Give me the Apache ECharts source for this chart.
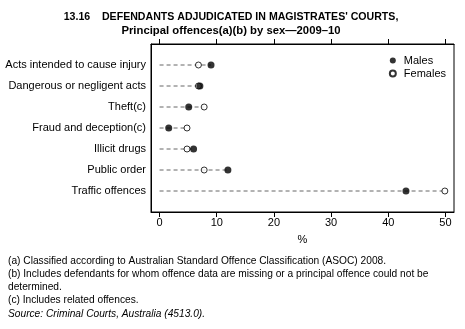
<!DOCTYPE html>
<html>
<head>
<meta charset="utf-8">
<script src="https://cdn.jsdelivr.net/npm/echarts@6/dist/echarts.min.js"></script>
<style>
html,body{margin:0;padding:0;background:#fff;}
#chart{width:465px;height:329px;}
</style>
</head>
<body>
<div id="chart"></div>
<script>
const categories = ['Acts intended to cause injury','Dangerous or negligent acts','Theft(c)','Fraud and deception(c)','Illicit drugs','Public order','Traffic offences'];
const males = [9.0, 7.05, 5.1, 1.6, 5.95, 11.95, 43.1];
const females = [6.8, 6.8, 7.8, 4.8, 4.8, 7.8, 49.9];
const xTicks = [0, 10, 20, 30, 40, 50];
const titleLine1 = "13.16    DEFENDANTS ADJUDICATED IN MAGISTRATES' COURTS,";
const titleLine2 = 'Principal offences(a)(b) by sex\u20142009\u201310';
const footnotes = [
  '(a) Classified according to Australian Standard Offence Classification (ASOC) 2008.',
  '(b) Includes defendants for whom offence data are missing or a principal offence could not be',
  'determined.',
  '(c) Includes related offences.'
];
const sourceText = 'Source: Criminal Courts, Australia (4513.0).';

const font = 'Liberation Sans, Arial, sans-serif';
const yCats = [''].concat(categories).concat(['']);
const idx = categories.map((c, i) => i + 1);

const chart = echarts.init(document.getElementById('chart'), null, {renderer: 'canvas'});
chart.setOption({
  animation: false,
  textStyle: {fontFamily: font},
  title: {
    text: '{a|' + titleLine1 + '}\n{b|' + titleLine2 + '}',
    left: 226, top: 6, textAlign: 'center',
    textStyle: {
      align: 'center',
      rich: {
        a: {fontSize: 10.6, fontWeight: 'bold', color: '#000', lineHeight: 13, fontFamily: font, align: 'center'},
        b: {fontSize: 11.3, fontWeight: 'bold', color: '#000', lineHeight: 13, fontFamily: font, align: 'center'}
      }
    }
  },
  grid: {left: 151, right: 11, top: 44, height: 168, show: true, borderColor: '#000', borderWidth: 1, containLabel: false},
  legend: {
    orient: 'vertical', right: 14, top: 50, itemWidth: 6, itemHeight: 6, itemGap: 2,
    textStyle: {fontSize: 11, color: '#000', fontFamily: font, padding: [0,0,0,3]},
    data: ['Males', 'Females']
  },
  xAxis: [{
    type: 'value', position: 'bottom', min: -1.5, max: 51.5,
    name: '%', nameLocation: 'middle', nameGap: 22,
    nameTextStyle: {fontSize: 11, color: '#000', fontFamily: font},
    axisLine: {show: true, onZero: false, lineStyle: {color: '#000'}},
    axisTick: {show: true, length: 5, customValues: xTicks, lineStyle: {color: '#000'}},
    axisLabel: {customValues: xTicks, fontSize: 11, color: '#000', margin: 5, fontFamily: font},
    splitLine: {show: false}
  }, {
    type: 'value', position: 'top', min: -1.5, max: 51.5,
    axisLine: {show: true, onZero: false, lineStyle: {color: '#000'}},
    axisTick: {show: true, length: 5, customValues: xTicks, lineStyle: {color: '#000'}},
    axisLabel: {show: false},
    splitLine: {show: false}
  }],
  yAxis: {
    type: 'category', data: yCats, boundaryGap: false, inverse: true,
    axisLine: {show: true, onZero: false, lineStyle: {color: '#000'}},
    axisTick: {show: false},
    axisLabel: {fontSize: 11, color: '#000', margin: 5, fontFamily: font, interval: 0},
    splitLine: {show: false}
  },
  series: [{
    type: 'custom', name: 'guide', silent: true, z: 1,
    data: idx.map((r, i) => [Math.max(males[i], females[i]), r]),
    encode: {x: 0, y: 1},
    renderItem: function (params, api) {
      const p0 = api.coord([0, api.value(1)]);
      const p1 = api.coord([api.value(0), api.value(1)]);
      return {type: 'line', shape: {x1: p0[0], y1: p0[1], x2: p1[0], y2: p1[1]},
        style: {stroke: '#666', lineWidth: 1, lineDash: [4, 3]}};
    }
  }, {
    type: 'scatter', name: 'Females', z: 3,
    data: idx.map((r, i) => [females[i], r]),
    symbol: 'circle', symbolSize: 6,
    itemStyle: {color: '#fff', borderColor: '#000', borderWidth: 1}
  }, {
    type: 'scatter', name: 'Males', z: 4,
    data: idx.map((r, i) => [males[i], r]),
    symbol: 'circle', symbolSize: 7,
    itemStyle: {color: '#000', borderColor: '#000', borderWidth: 0}
  }],
  graphic: [{
    type: 'text', left: 8, top: 255,
    style: {text: footnotes.join('\n'), font: '10.2px ' + font, fill: '#000', lineHeight: 12.8}
  }, {
    type: 'text', left: 8, top: 309,
    style: {text: sourceText, font: 'italic 10.2px ' + font, fill: '#000'}
  }]
});
</script>
</body>
</html>
